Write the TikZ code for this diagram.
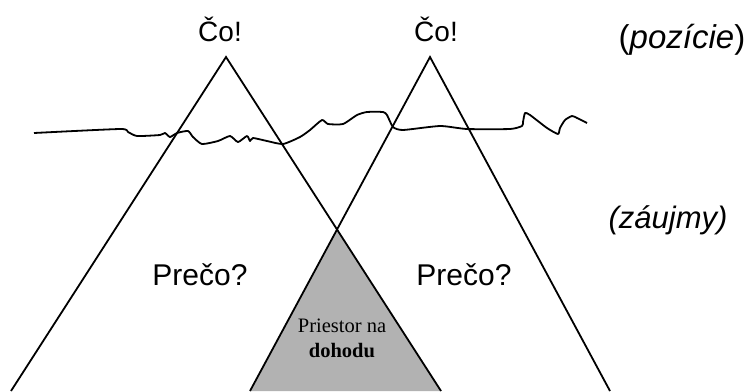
\documentclass[tikz,border=0pt]{standalone}
\usepackage{fontspec}
\setmainfont{Liberation Sans}
\newfontfamily\serifface{Liberation Serif}
\begin{document}
\begin{tikzpicture}[x=1pt,y=-1pt,
  edge/.style={line width=1.8pt, line join=miter},
  bigtext/.style={font=\fontsize{30}{34}\selectfont, anchor=base, inner sep=0pt},
  smalltext/.style={font=\serifface\fontsize{20.5}{25}\selectfont, anchor=base, inner sep=0pt}]
\useasboundingbox (0,0) rectangle (754,391);
% coordinates
\coordinate (LA) at (226,57);
\coordinate (LL) at (11,391);
\coordinate (LR) at (441,391);
\coordinate (RA) at (430,57);
\coordinate (RL) at (250,391);
\coordinate (RR) at (610,391);
\coordinate (X) at (337,230);
% gray zone
\fill[black!30] (X) -- (RL) -- (LR) -- cycle;
% triangles
\draw[edge] (LL) -- (LA) -- (LR);
\draw[edge] (RL) -- (RA) -- (RR);
% waterline
\draw[line width=1.8pt, line join=round]
  plot[smooth, tension=0.35] coordinates {
  (34,133) (120,129) (128,132) (137,136) (160,135) (165,133) (170,137)
  (177,133) (188,131) (193,137) (202,144) (218,141) (230,136) (238,142)
  (247,136) (250,141) (253,138) (267,141) (283,144) (300,137) (310,130)
  (322,120) (328,124) (343,124) (357,115) (367,112) (383,112) (387,115)
  (393,127) (403,130) (440,126) (467,129) (510,129) (522,126) (523,122)
  (525,113) (530,115) (547,128) (558,134) (560,128) (565,120) (572,116)
  (577,118) (587,123)};
% labels
\node[bigtext, font=\fontsize{28}{32}\selectfont] (co1) at (220,41) {Čo!};
\node[bigtext, font=\fontsize{28}{32}\selectfont] (co2) at (436,41) {Čo!};
\node[bigtext, font=\fontsize{33}{38}\selectfont] (poz) at (682,48) {(\textit{pozície})};
\node[bigtext, font=\fontsize{31}{36}\selectfont] (zau) at (668,228) {\textit{(záujmy)}};
\node[bigtext] (pr1) at (200,285) {Prečo?};
\node[bigtext] (pr2) at (464,285) {Prečo?};
\node[smalltext] (pn1) at (342,332) {Priestor na};
\node[smalltext] (pn2) at (342,357) {\bfseries dohodu};
\end{tikzpicture}
\end{document}
